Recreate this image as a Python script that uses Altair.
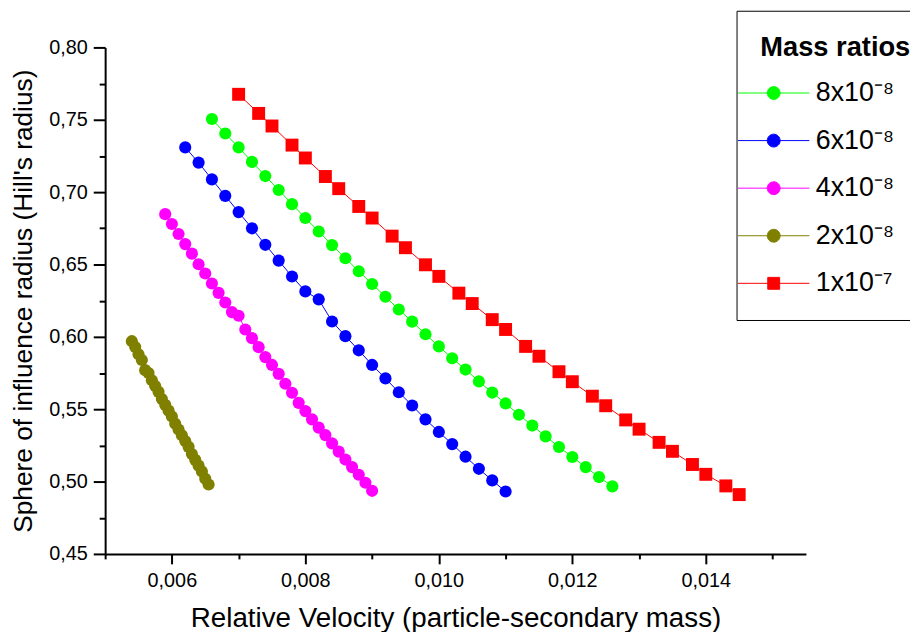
import altair as alt
import pandas as pd

FONT = "Liberation Sans"

series_labels = ["8x10⁻⁸", "6x10⁻⁸", "4x10⁻⁸", "2x10⁻⁸", "1x10⁻⁷"]
series_colors = ["#00FF00", "#0000FF", "#FF00FF", "#808000", "#FF0000"]

x_green = [0.0066, 0.0068, 0.0070, 0.0072, 0.0074, 0.0076, 0.0078, 0.0080, 0.0082, 0.0084,
           0.0086, 0.0088, 0.0090, 0.0092, 0.0094, 0.0096, 0.0098, 0.0100, 0.0102, 0.0104,
           0.0106, 0.0108, 0.0110, 0.0112, 0.0114, 0.0116, 0.0118, 0.0120, 0.0122, 0.0124, 0.0126]
y_green = [0.7505, 0.7405, 0.7309, 0.7209, 0.7111, 0.7015, 0.6917, 0.6821, 0.6728, 0.6634,
           0.6543, 0.6453, 0.6365, 0.6277, 0.6189, 0.6105, 0.6018, 0.5934, 0.5852, 0.5774,
           0.5692, 0.5615, 0.5540, 0.5462, 0.5387, 0.5312, 0.5239, 0.5170, 0.5100, 0.5031, 0.4967]

x_blue = [0.0062, 0.0064, 0.0066, 0.0068, 0.0070, 0.0072, 0.0074, 0.0076, 0.0078, 0.0080,
          0.0082, 0.0084, 0.0086, 0.0088, 0.0090, 0.0092, 0.0094, 0.0096, 0.0098, 0.0100,
          0.0102, 0.0104, 0.0106, 0.0108, 0.0110]
y_blue = [0.7309, 0.7204, 0.7088, 0.6974, 0.6862, 0.6750, 0.6636, 0.6527, 0.6417, 0.6314,
          0.6259, 0.6106, 0.6005, 0.5907, 0.5806, 0.5713, 0.5617, 0.5526, 0.5430, 0.5343,
          0.5259, 0.5172, 0.5088, 0.5008, 0.4931]

x_magenta = [0.0059, 0.0060, 0.0061, 0.0062, 0.0063, 0.0064, 0.0065, 0.0066, 0.0067, 0.0068,
             0.0069, 0.0070, 0.0071, 0.0072, 0.0073, 0.0074, 0.0075, 0.0076, 0.0077, 0.0078,
             0.0079, 0.0080, 0.0081, 0.0082, 0.0083, 0.0084, 0.0085, 0.0086, 0.0087, 0.0088,
             0.0089, 0.0090]
y_magenta = [0.6848, 0.6780, 0.6711, 0.6641, 0.6575, 0.6502, 0.6438, 0.6369, 0.6304, 0.6237,
             0.6171, 0.6146, 0.6051, 0.5991, 0.5929, 0.5860, 0.5806, 0.5744, 0.5676, 0.5614,
             0.5544, 0.5487, 0.5430, 0.5373, 0.5321, 0.5264, 0.5207, 0.5152, 0.5100, 0.5047,
             0.4992, 0.4936]

x_olive = [0.00540, 0.00545, 0.00550, 0.00555, 0.00560, 0.00565, 0.00570, 0.00575, 0.00580,
           0.00585, 0.00590, 0.00595, 0.00600, 0.00605, 0.00610, 0.00615, 0.00620, 0.00625,
           0.00630, 0.00635, 0.00640, 0.00645, 0.00650, 0.00655]
y_olive = [0.597, 0.593, 0.588, 0.584, 0.577, 0.575, 0.570, 0.566, 0.562, 0.557, 0.553, 0.549,
           0.545, 0.540, 0.536, 0.532, 0.528, 0.524, 0.519, 0.515, 0.511, 0.507, 0.502, 0.498]

x_red = [0.0070, 0.0073, 0.0075, 0.0078, 0.0080, 0.0083, 0.0085, 0.0088, 0.0090, 0.0093,
         0.0095, 0.0098, 0.0100, 0.0103, 0.0105, 0.0108, 0.0110, 0.0113, 0.0115, 0.0118,
         0.0120, 0.0123, 0.0125, 0.0128, 0.0130, 0.0133, 0.0135, 0.0138, 0.0140, 0.0143, 0.0145]
y_red = [0.7676, 0.7544, 0.7457, 0.7325, 0.7236, 0.7108, 0.7024, 0.6901, 0.6821, 0.6696,
         0.6616, 0.6498, 0.6418, 0.6302, 0.6230, 0.6119, 0.6051, 0.5934, 0.5866, 0.5759,
         0.5690, 0.5590, 0.5524, 0.5426, 0.5362, 0.5271, 0.5209, 0.5118, 0.5050, 0.4970, 0.4910]

x_major_ticks = [0.006, 0.008, 0.010, 0.012, 0.014]
x_minor_ticks = [0.005, 0.007, 0.009, 0.011, 0.013, 0.015]
y_major_ticks = [0.45, 0.50, 0.55, 0.60, 0.65, 0.70, 0.75, 0.80]
y_minor_ticks = [0.475, 0.525, 0.575, 0.625, 0.675, 0.725, 0.775]

all_series = [(series_labels[0], x_green, y_green),
              (series_labels[1], x_blue, y_blue),
              (series_labels[2], x_magenta, y_magenta),
              (series_labels[3], x_olive, y_olive),
              (series_labels[4], x_red, y_red)]
rows = []
for lab, xs, ys in all_series:
    for xv, yv in zip(xs, ys):
        rows.append({"series": lab, "v": xv, "r": yv})
df = pd.DataFrame(rows)

# legend glyphs: line segment with marker in the middle
circle_leg = "M-3,0H3M-0.54,0A0.54,0.54,0,1,1,0.54,0A0.54,0.54,0,1,1,-0.54,0Z"
square_leg = "M-3,0H3M-0.5,-0.5H0.5V0.5H-0.5Z"
legend_shapes = [circle_leg, circle_leg, circle_leg, circle_leg, square_leg]

x_scale = alt.Scale(domain=[0.005, 0.0155], nice=False, zero=False)
y_scale = alt.Scale(domain=[0.45, 0.80], nice=False, zero=False)


def col_scale():
    return alt.Scale(domain=series_labels, range=series_colors)


shape_scale = alt.Scale(domain=series_labels, range=legend_shapes)

x_major = alt.Axis(values=x_major_ticks, orient="bottom",
                   labelExpr="replace(format(datum.value, '.3f'), '.', ',')",
                   tickSize=10, tickWidth=2, tickColor="black",
                   domainWidth=2, domainColor="black",
                   labelFont=FONT, labelFontSize=20, labelColor="black", labelPadding=7,
                   labelFlush=False, labelOverlap=False,
                   title="Relative Velocity (particle-secondary mass)",
                   titleFont=FONT, titleFontSize=28, titleFontWeight="normal",
                   titleColor="black", titlePadding=14, grid=False)
x_minor = alt.Axis(values=x_minor_ticks, orient="bottom", labels=False, domain=False,
                   tickSize=5, tickWidth=2, tickColor="black", title=None, grid=False)
y_major = alt.Axis(values=y_major_ticks, orient="left",
                   labelExpr="replace(format(datum.value, '.2f'), '.', ',')",
                   tickSize=12, tickWidth=2, tickColor="black",
                   domainWidth=2, domainColor="black",
                   labelFont=FONT, labelFontSize=20, labelColor="black", labelPadding=6,
                   labelFlush=False, labelOverlap=False,
                   title="Sphere of influence radius (Hill's radius)",
                   titleFont=FONT, titleFontSize=26.5, titleFontWeight="normal",
                   titleColor="black", titlePadding=11, grid=False)
y_minor = alt.Axis(values=y_minor_ticks, orient="left", labels=False, domain=False,
                   tickSize=6, tickWidth=2, tickColor="black", title=None, grid=False)

legend = alt.Legend(title="Mass ratios", orient="none", legendX=637, legendY=-37,
                    padding=24, strokeColor="black", fillColor="white",
                    symbolSize=576, symbolStrokeWidth=1, symbolOpacity=1, symbolOffset=0,
                    labelOffset=29, labelFont=FONT, labelFontSize=27, labelColor="black",
                    labelLimit=300, titleFont=FONT, titleFontSize=27.5, titleFontWeight="bold",
                    titleColor="black", titlePadding=18, rowPadding=20)

base = alt.Chart(df)

lines = base.mark_line(strokeWidth=1).encode(
    x=alt.X("v:Q", scale=x_scale, axis=x_major),
    y=alt.Y("r:Q", scale=y_scale, axis=y_major),
    stroke=alt.Stroke("series:N", scale=col_scale(), legend=None),
    detail="series:N",
)

circles = base.transform_filter(alt.datum.series != series_labels[4]).mark_point(
    filled=True, shape="circle", size=150, opacity=1, strokeWidth=0
).encode(
    x=alt.X("v:Q", scale=x_scale, axis=None),
    y=alt.Y("r:Q", scale=y_scale, axis=None),
    fill=alt.Fill("series:N", scale=col_scale(), legend=None),
)

squares = base.transform_filter(alt.datum.series == series_labels[4]).mark_point(
    filled=True, shape="square", size=170, opacity=1, strokeWidth=0
).encode(
    x=alt.X("v:Q", scale=x_scale, axis=None),
    y=alt.Y("r:Q", scale=y_scale, axis=None),
    fill=alt.Fill("series:N", scale=col_scale(), legend=None),
)

legend_layer = base.mark_point(filled=True, opacity=0, strokeWidth=1).encode(
    x=alt.X("v:Q", scale=x_scale, axis=x_minor),
    y=alt.Y("r:Q", scale=y_scale, axis=y_minor),
    fill=alt.Fill("series:N", scale=col_scale(), legend=legend),
    stroke=alt.Stroke("series:N", scale=col_scale(), legend=legend),
    shape=alt.Shape("series:N", scale=shape_scale, legend=legend),
)

chart = alt.layer(lines, circles, squares, legend_layer).resolve_axis(
    x="independent", y="independent"
).resolve_scale(
    fill="independent", stroke="independent", shape="independent"
).properties(
    width=707, height=511, background="white",
    padding={"left": 98, "top": 37, "right": 105, "bottom": 76},
    autosize=alt.AutoSizeParams(type="none"),
).configure_view(strokeWidth=0, stroke="transparent")

chart.save("out.html", embed_options={"renderer": "svg", "actions": False})
